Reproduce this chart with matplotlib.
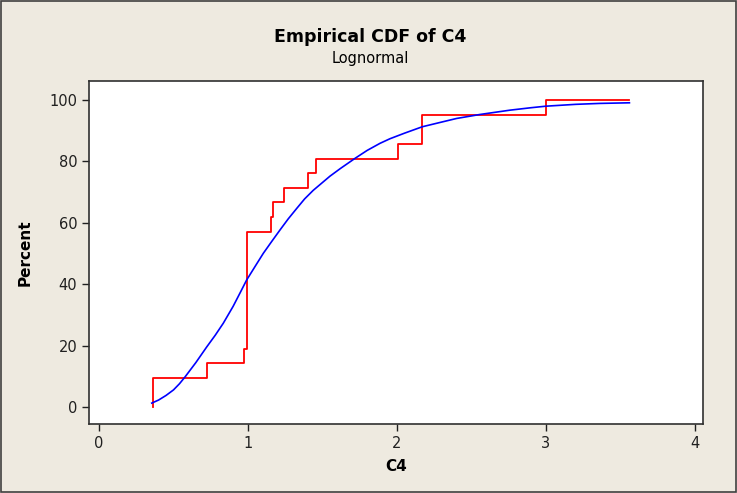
import matplotlib
matplotlib.use('Agg')
import matplotlib.pyplot as plt
from matplotlib.patches import Rectangle

degrau_x = [0.364, 0.364, 0.723, 0.971, 0.993, 1.152, 1.168, 1.244, 1.400, 1.454, 2.004, 2.170, 2.998, 3.56]
degrau_pct = [0.0, 9.52, 14.29, 19.05, 57.14, 61.90, 66.67, 71.43, 76.19, 80.95, 85.71, 95.24, 100.0, 100.0]

# Curva lognormal ajustada
ajuste_x = [0.354, 0.40, 0.45, 0.50, 0.54, 0.577, 0.65, 0.723, 0.78, 0.834, 0.90, 0.95, 0.991,
            1.05, 1.103, 1.16, 1.215, 1.27, 1.327, 1.38, 1.438, 1.55, 1.62, 1.718, 1.80,
            1.886, 1.953, 2.05, 2.17, 2.289, 2.40, 2.557, 2.758, 2.90, 3.0, 3.20, 3.36, 3.56]
ajuste_pct = [1.3, 2.3, 3.8, 5.6, 7.6, 9.8, 14.5, 19.6, 23.4, 27.3, 32.8, 37.5, 41.4,
              46.0, 50.1, 54.0, 57.7, 61.3, 64.7, 67.8, 70.6, 75.2, 77.7, 81.0, 83.6,
              85.9, 87.4, 89.2, 91.3, 92.7, 94.0, 95.3, 96.7, 97.5, 98.0, 98.6, 98.9, 99.1]

x_ticks = [0, 1, 2, 3, 4]
y_ticks = [0, 20, 40, 60, 80, 100]

fundo = '#EEEAE0'

fig = plt.figure(figsize=(7.37, 4.93), dpi=100, facecolor=fundo)
# moldura externa
fig.patches.append(Rectangle((0.001, 0.002), 0.997, 0.996, transform=fig.transFigure,
                             fill=False, edgecolor='#404040', linewidth=1.2))

ax = fig.add_axes([0.1208, 0.140, 0.8331, 0.6957])
ax.set_facecolor('white')

ax.step(degrau_x, degrau_pct, where='post', color='#FF0000', linewidth=1.3)
ax.plot(ajuste_x, ajuste_pct, color='#0000FF', linewidth=1.2)

ax.set_xlim(-0.067, 4.054)
ax.set_ylim(-5.5, 106.2)
ax.set_xticks(x_ticks)
ax.set_yticks(y_ticks)
ax.tick_params(direction='out', length=5, width=1, labelsize=10.5, colors='#202020')
for s in ax.spines.values():
    s.set_color('#303030')
    s.set_linewidth(1.2)

ax.set_xlabel('C4', fontsize=11, fontweight='bold', labelpad=6)
ax.set_ylabel('Percent', fontsize=11, fontweight='bold', labelpad=12)

fig.text(0.502, 0.925, 'Empirical CDF of C4', ha='center', va='center',
         fontsize=12.5, fontweight='bold')
fig.text(0.502, 0.882, 'Lognormal', ha='center', va='center', fontsize=10.5)

fig.savefig('out.png', dpi=100, facecolor=fundo)
